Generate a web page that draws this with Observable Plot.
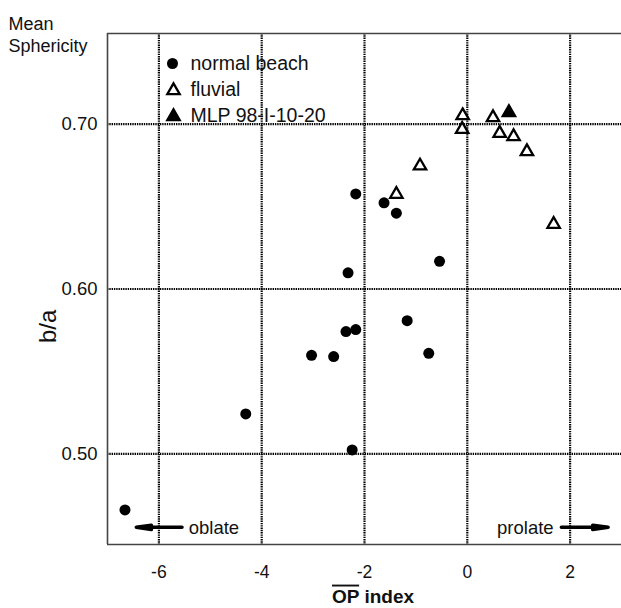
<!DOCTYPE html>
<html>
<head>
<meta charset="utf-8">
<script src="https://cdn.jsdelivr.net/npm/d3@7"></script>
<script src="https://cdn.jsdelivr.net/npm/@observablehq/plot@0.6"></script>
<style>
  html, body { margin: 0; padding: 0; background: #fff; }
  #chart { width: 621px; height: 608px; }
</style>
</head>
<body>
<div id="chart"></div>
<script>
// ---- data ----
const xDomain = [-7, 3];
const yDomain = [0.445, 0.755];
const xTicks = [-6, -4, -2, 0, 2];
const yTicks = [0.50, 0.60, 0.70];

const beachX = [-2.17, -1.62, -1.38, -0.54, -2.32, -2.36, -2.17, -1.17, -3.03, -2.60, -0.75, -4.31, -2.24, -6.66];
const beachY = [0.6577, 0.6523, 0.6460, 0.6168, 0.6098, 0.5742, 0.5754, 0.5808, 0.5598, 0.5590, 0.5610, 0.5242, 0.5024, 0.4660];

const fluvialX = [-0.09, -0.10, 0.50, 0.63, 0.90, 1.16, 1.68, -0.92, -1.38];
const fluvialY = [0.7052, 0.6969, 0.7040, 0.6945, 0.6925, 0.6834, 0.6393, 0.6747, 0.6575];

const mlpX = [0.81];
const mlpY = [0.7071];

const legendLabels = ["normal beach", "fluvial", "MLP 98-I-10-20"];
const legendSymbols = ["circle", "triangle", "triangle"];
const legendFills = ["black", "white", "black"];

const arrowLabels = ["oblate", "prolate"];
const arrowTail = [-5.55, 1.83];
const arrowHead = [-6.44, 2.74];
const arrowTextX = [-5.42, 1.68];
const arrowY = [0.4554, 0.4554];

const titleText = "Mean\nSphericity";
const xLabel = "OP index";
const yLabel = "b/a";

// ---- build ----
const font = "'Liberation Sans', Arial, Helvetica, sans-serif";
const beach = beachX.map((x, i) => ({x, y: beachY[i]}));
const fluvial = fluvialX.map((x, i) => ({x, y: fluvialY[i]}));
const mlp = mlpX.map((x, i) => ({x, y: mlpY[i]}));
const arrows = arrowLabels.map((label, i) => ({label, x1: arrowTail[i], x2: arrowHead[i], tx: arrowTextX[i], y: arrowY[i]}));

const triR = 4.6;
const legendMarks = legendLabels.flatMap((label, i) => {
  const isTri = legendSymbols[i] === "triangle";
  return [
    Plot.dot([label], {
      frameAnchor: "top-left", dx: isTri ? 66 : 65, dy: 30 + i * 26 + (isTri ? 1 : 0),
      symbol: legendSymbols[i], r: isTri ? triR : 5.5,
      fill: legendFills[i], stroke: "black", strokeWidth: isTri ? 2.3 : 0
    }),
    Plot.text([label], {
      frameAnchor: "top-left", dx: 83, dy: 30 + i * 26, text: d => d,
      textAnchor: "start", lineAnchor: "middle", fontSize: 19.5, fill: "#111"
    })
  ];
});

const gridStyle = {stroke: "#000", strokeOpacity: 1, strokeWidth: 2.2, strokeDasharray: "1.4,0.9"};

const chart = Plot.plot({
  width: 621,
  height: 608,
  marginTop: 33,
  marginLeft: 107,
  marginRight: 0,
  marginBottom: 64,
  style: {fontFamily: font, color: "#111", background: "white"},
  x: {domain: xDomain},
  y: {domain: yDomain},
  marks: [
    Plot.gridX(xTicks, gridStyle),
    Plot.gridY(yTicks, gridStyle),
    Plot.ruleX([xDomain[0]], {stroke: "#444", strokeWidth: 1.6}),
    Plot.ruleY(yDomain, {stroke: "#444", strokeWidth: 1.6}),
    Plot.axisX(xTicks, {tickSize: 0, tickPadding: 21, fontSize: 17.5, label: null, tickFormat: d => String(d)}),
    Plot.axisY(yTicks, {tickSize: 0, tickPadding: 10, fontSize: 18.5, label: null, tickFormat: d3.format(".2f")}),
    Plot.dot(beach, {x: "x", y: "y", r: 5.5, fill: "black", symbol: "circle"}),
    Plot.dot(fluvial, {x: "x", y: "y", r: triR, fill: "white", stroke: "black", strokeWidth: 2.3, symbol: "triangle"}),
    Plot.dot(mlp, {x: "x", y: "y", r: triR, fill: "black", stroke: "black", strokeWidth: 2.3, symbol: "triangle"}),
    ...legendMarks,
    Plot.arrow(arrows, {x1: "x1", x2: "x2", y1: "y", y2: "y", stroke: "black", strokeWidth: 3.5, headAngle: 16, headLength: 8}),
    Plot.text(arrows.filter(d => d.label === "oblate"), {x: "tx", y: "y", text: "label", textAnchor: "start", lineAnchor: "middle", fontSize: 18.5, fill: "#111", dy: 1}),
    Plot.text(arrows.filter(d => d.label === "prolate"), {x: "tx", y: "y", text: "label", textAnchor: "end", lineAnchor: "middle", fontSize: 18.5, fill: "#111", dy: 1}),
    Plot.text([titleText], {frameAnchor: "top-left", dx: -99, dy: -18, text: d => d, textAnchor: "start", lineAnchor: "top", lineHeight: 1.17, fontSize: 18, fill: "#111"}),
    Plot.text([xLabel], {frameAnchor: "bottom", dx: 8.5, dy: 52, text: d => d, fontSize: 19, fontWeight: "bold", lineAnchor: "middle", fill: "#111"}),
    Plot.text([yLabel], {frameAnchor: "left", dx: -59, dy: 54, text: d => d, rotate: -90, fontSize: 24, lineAnchor: "middle", fill: "#111"})
  ]
});

document.getElementById("chart").appendChild(chart);

// overline on "OP"
chart.querySelectorAll("text").forEach(t => {
  if (t.textContent === xLabel) {
    const ns = "http://www.w3.org/2000/svg";
    const parts = xLabel.split(" ");
    t.textContent = "";
    const a = document.createElementNS(ns, "tspan");
    a.setAttribute("text-decoration", "overline");
    a.style.textDecoration = "overline";
    a.textContent = parts[0];
    t.appendChild(a);
    t.appendChild(document.createTextNode(" " + parts.slice(1).join(" ")));
  }
});
</script>
</body>
</html>
